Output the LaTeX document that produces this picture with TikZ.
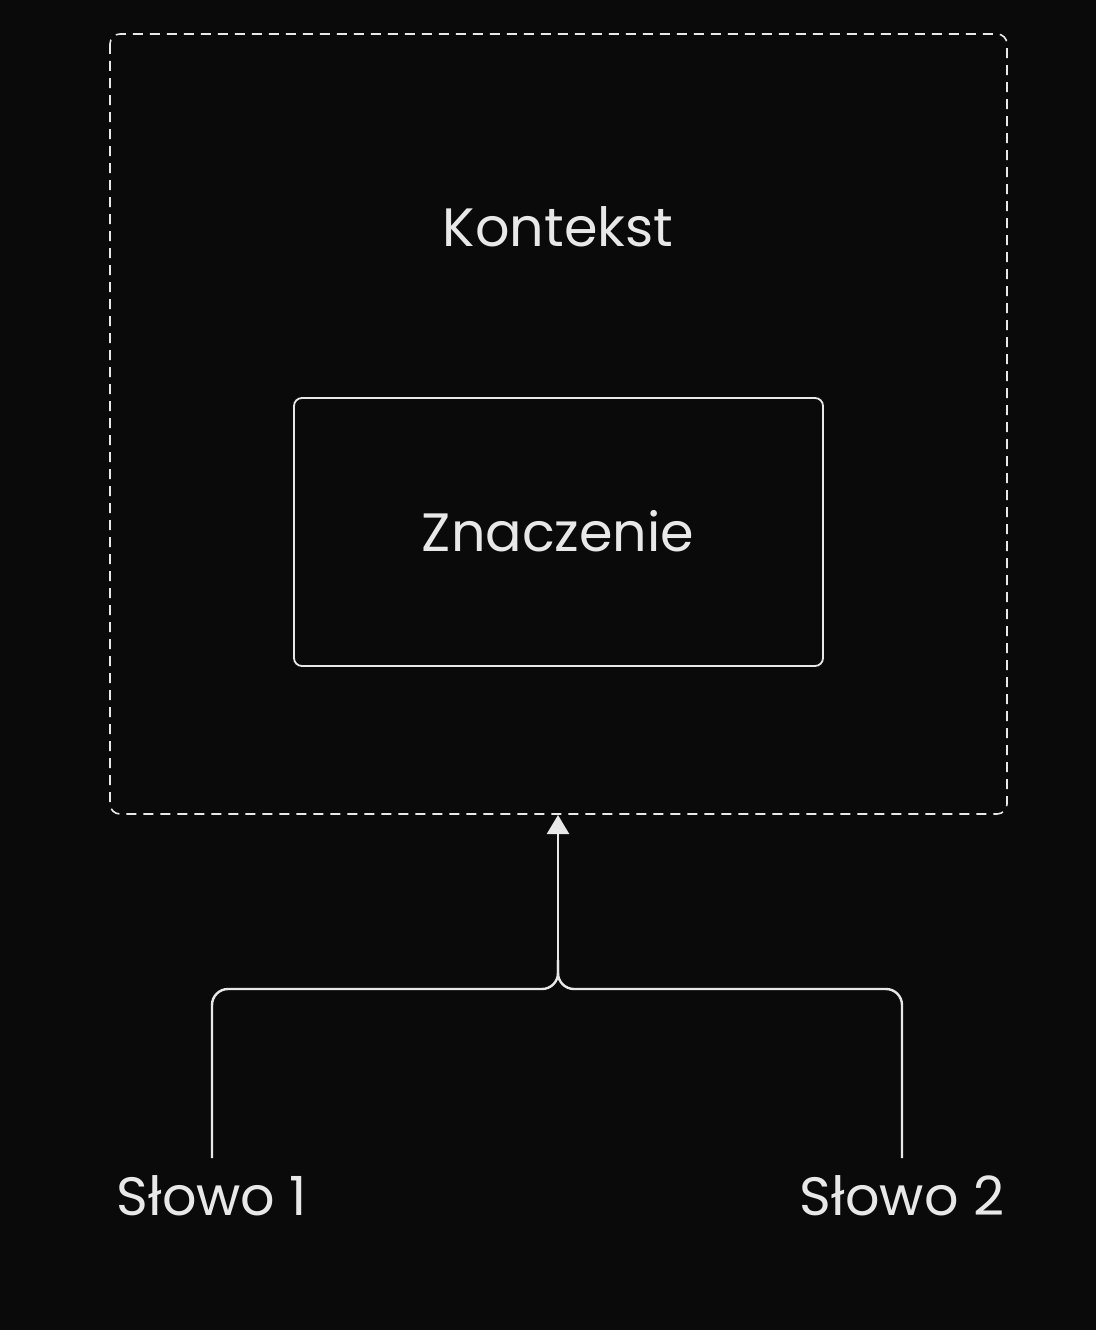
\documentclass[tikz,border=0pt]{standalone}
\usepackage{fontspec}
\setmainfont{Poppins}
\usetikzlibrary{arrows.meta}
\definecolor{bg}{HTML}{0A0A0A}
\definecolor{fg}{HTML}{E8E8E8}
\tikzset{
  lbl/.style={text=fg, font=\fontsize{54}{58}\selectfont, inner sep=0pt},
  ctxbox/.style={draw=fg, line width=1.6pt, dash pattern=on 10pt off 7pt, rounded corners=10pt},
  meanbox/.style={draw=fg, line width=1.8pt, rounded corners=8pt},
  link/.style={draw=fg, line width=2.4pt, rounded corners=16pt},
  tip/.style={-{Triangle[width=22pt,length=19pt]}}
}
\begin{document}
\begin{tikzpicture}[x=1pt,y=-1pt]
\fill[bg] (0,0) rectangle (1096,1330);
\useasboundingbox (0,0) rectangle (1096,1330);
\draw[ctxbox] (110,34) rectangle (1007,814);
\node[meanbox, minimum width=529pt, minimum height=268pt, inner sep=0pt] (mean) at (558.5,532) {};
\node[lbl, anchor=base] (ctx) at (558,246) {Kontekst};
\node[lbl, anchor=base] (meantext) at (558,551) {Znaczenie};
\coordinate (ctxbot) at (558,815);
\node[lbl, anchor=base] (w1) at (212,1215) {Słowo 1};
\node[lbl, anchor=base] (w2) at (902,1215) {Słowo 2};
\coordinate (w1top) at (212,1158);
\coordinate (w2top) at (902,1158);
\coordinate (join) at (558,989);
\draw[link] (w1top) |- (join) -- (558,960);
\draw[link] (w2top) |- (join) -- (558,960);
\draw[draw=fg, line width=2.4pt, tip] (558,970) -- (ctxbot);
\end{tikzpicture}
\end{document}
